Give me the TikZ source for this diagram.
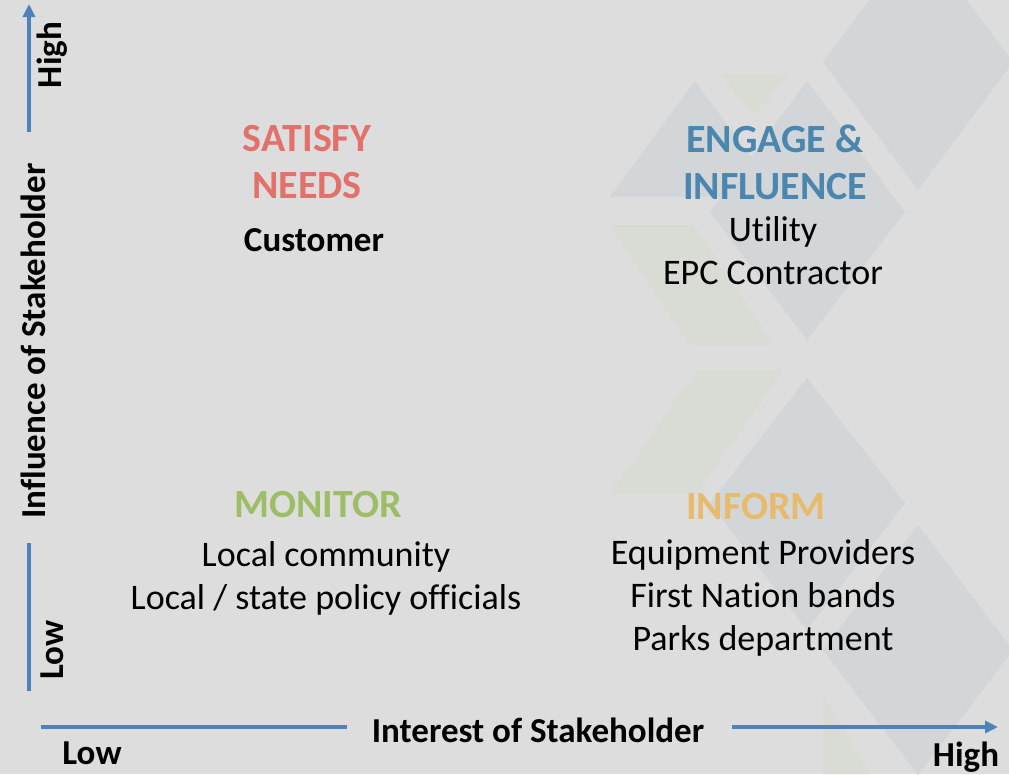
\documentclass[tikz,border=0pt]{standalone}
\usepackage{fontspec}
\setmainfont{Carlito}[Ligatures=NoCommon]
\usetikzlibrary{arrows.meta}
\definecolor{bgGrey}{HTML}{DDDDDD}
\definecolor{shapeGrey}{HTML}{D2D6D9}
\definecolor{shapeGreen}{HTML}{D9DBD5}
\definecolor{axisBlue}{HTML}{4F81BD}
\definecolor{satisfyRed}{HTML}{E2716B}
\definecolor{engageBlue}{HTML}{4A86AE}
\definecolor{monitorGreen}{HTML}{9DBE67}
\definecolor{informGold}{HTML}{E8BA6B}
\begin{document}
\begin{tikzpicture}
[x=1pt,y=-1pt,
  headDecorate/.style={font=\fontsize{40}{44}\selectfont\bfseries,inner sep=0pt},%
  itemDecorate/.style={font=\fontsize{36}{43}\selectfont,align=center,inner sep=0pt},%
  axisDecorate/.style={font=\fontsize{35}{38}\selectfont\bfseries,inner sep=0pt},%
  lineDecorate/.style={axisBlue,line width=4pt},%
  arrowDecorate/.style={lineDecorate,-{Triangle[length=13pt,width=12pt]}}]
%% background
\fill[bgGrey] (0,0) rectangle (1009,774);
\useasboundingbox (0,0) rectangle (1009,774);
\fill[shapeGreen] (720,74) -- (787,74) -- (755,115) -- cycle;
\fill[shapeGreen] (610,225) -- (693,225) -- (773,345) -- (690,345) -- cycle;
\fill[shapeGreen] (610,494) -- (697,370) -- (783,370) -- (697,494) -- cycle;
\fill[shapeGrey] (695,81) -- (780,197) -- (610,197) -- cycle;
\fill[shapeGrey] (823,62) -- (918,-65) -- (1013,62) -- (918,190) -- cycle;
\fill[shapeGrey] (807,81) -- (905,212) -- (807,340) -- (710,212) -- cycle;
\fill[shapeGrey] (807,378) -- (905,503) -- (807,630) -- (710,503) -- cycle;
\fill[shapeGrey] (918,525) -- (1013,650) -- (918,775) -- (823,650) -- cycle;
\fill[shapeGreen] (823,695) -- (870,774) -- (823,774) -- cycle;
%% quadrant texts
\node (satisfy) at (307,162) [headDecorate,satisfyRed,align=center] {SATISFY\\[3pt]NEEDS};
\node (customer) at (314,240) [itemDecorate,font=\fontsize{35}{40}\selectfont\bfseries] {Customer};
\node (engage) at (775,162) [headDecorate,engageBlue,align=center] {ENGAGE \&\\[3pt]INFLUENCE};
\node (utility) at (773,251) [itemDecorate] {Utility\\EPC Contractor};
\node (monitor) at (318,505) [headDecorate,monitorGreen] {MONITOR};
\node (local) at (326,578) [itemDecorate] {Local community\\Local / state policy officials};
\node (inform) at (756,507) [headDecorate,informGold] {INFORM};
\node (equip) at (763,598) [itemDecorate] {Equipment Providers\\First Nation bands\\Parks department};
%% axes
\node (yLabel) at (33,341) [axisDecorate,rotate=90] {Influence of Stakeholder};
\node (yHigh) at (52,55) [axisDecorate,rotate=90] {High};
\node (yLow) at (52,650) [axisDecorate,rotate=90] {Low};
\node (xLabel) at (538,730) [axisDecorate] {Interest of Stakeholder};
\node (xLow) at (92,753) [axisDecorate] {Low};
\node (xHigh) at (966,757) [axisDecorate] {High};
\coordinate (yTop) at (29,4);
\coordinate (yUpper) at (29,132);
\coordinate (yLower) at (29,543);
\coordinate (yBottom) at (29,691);
\coordinate (xLeft) at (41,727);
\coordinate (xMidLeft) at (347,727);
\coordinate (xMidRight) at (732,727);
\coordinate (xRight) at (998,727);
\draw[arrowDecorate] (yUpper) -- (yTop);
\draw[lineDecorate] (yBottom) -- (yLower);
\draw[lineDecorate] (xLeft) -- (xMidLeft);
\draw[arrowDecorate] (xMidRight) -- (xRight);
\end{tikzpicture}
\end{document}
